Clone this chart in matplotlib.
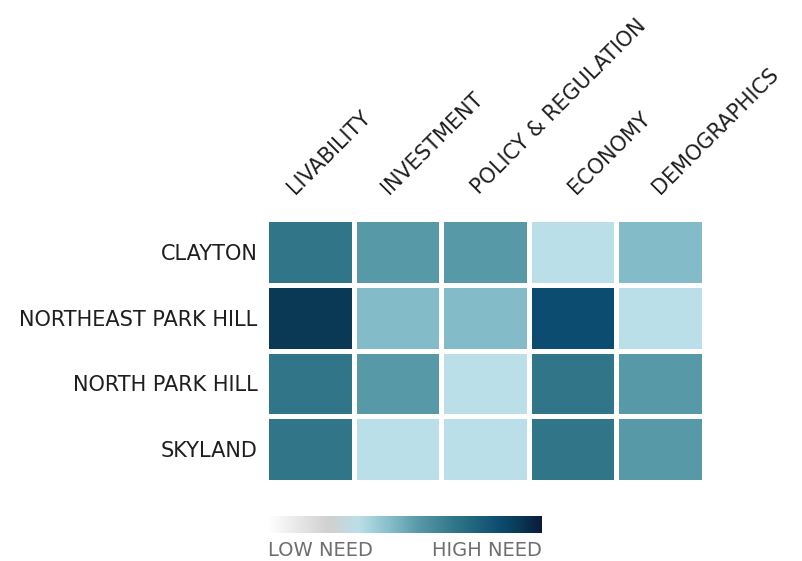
import matplotlib
matplotlib.use("Agg")
import matplotlib.pyplot as plt
import numpy as np
from matplotlib.colors import LinearSegmentedColormap
from matplotlib import transforms

# neighborhoods and categories
neighborhoods = ["CLAYTON", "NORTHEAST PARK HILL", "NORTH PARK HILL", "SKYLAND"]
categories = ["LIVABILITY", "INVESTMENT", "POLICY & REGULATION", "ECONOMY", "DEMOGRAPHICS"]

# need score (0 = low, 100 = high)
clayton = [68, 55, 55, 33, 45]
ne_park_hill = [92, 45, 45, 85, 33]
north_park_hill = [68, 55, 33, 68, 55]
skyland = [68, 33, 33, 68, 55]

need = np.array([clayton, ne_park_hill, north_park_hill, skyland])

cmap = LinearSegmentedColormap.from_list("need", [
    (0.00, "#ffffff"),
    (0.22, "#d0d0d0"),
    (0.33, "#bbdfe8"),
    (0.45, "#83bcc8"),
    (0.55, "#5899a8"),
    (0.68, "#317788"),
    (0.85, "#0c4c70"),
    (0.92, "#093a55"),
    (1.00, "#0b1a3a"),
])

text_col = "#1e1e1e"

fig = plt.figure(figsize=(8.02, 5.61), dpi=100)

ax = fig.add_axes([266 / 802, 1 - 482 / 561, 438 / 802, 263 / 561])
ax.pcolormesh(need, cmap=cmap, vmin=0, vmax=100, edgecolors="white", linewidth=3.5)
ax.set_xlim(0, 5)
ax.set_ylim(4, 0)
for s in ax.spines.values():
    s.set_visible(False)

ax.set_yticks(np.arange(4) + 0.5)
ax.set_yticklabels(neighborhoods, fontsize=15, color=text_col)
ax.tick_params(axis="y", length=0, pad=6)

ax.xaxis.tick_top()
ax.set_xticks(np.arange(5) + 0.5)
ax.set_xticklabels(categories, fontsize=15, color=text_col, rotation=45,
                   ha="left", va="bottom", rotation_mode="anchor")
ax.tick_params(axis="x", length=0, pad=15)
# small horizontal nudges (px) for the slanted labels
nudge = [-12, -6, -3, 6, 3]
for lab, dx in zip(ax.get_xticklabels(), nudge):
    lab.set_transform(lab.get_transform() +
                      transforms.ScaledTranslation(dx / 100, 0, fig.dpi_scale_trans))

# colour key
cax = fig.add_axes([268 / 802, 1 - 533 / 561, 274 / 802, 17 / 561])
grad = np.linspace(0, 100, 256).reshape(1, -1)
cax.imshow(grad, aspect="auto", cmap=cmap, vmin=0, vmax=100)
cax.set_axis_off()
fig.text(268 / 802, 1 - 551 / 561, "LOW NEED", fontsize=14, color="#6e6e6e",
         ha="left", va="center")
fig.text(542 / 802, 1 - 551 / 561, "HIGH NEED", fontsize=14, color="#6e6e6e",
         ha="right", va="center")

fig.savefig("out.png", dpi=100)
